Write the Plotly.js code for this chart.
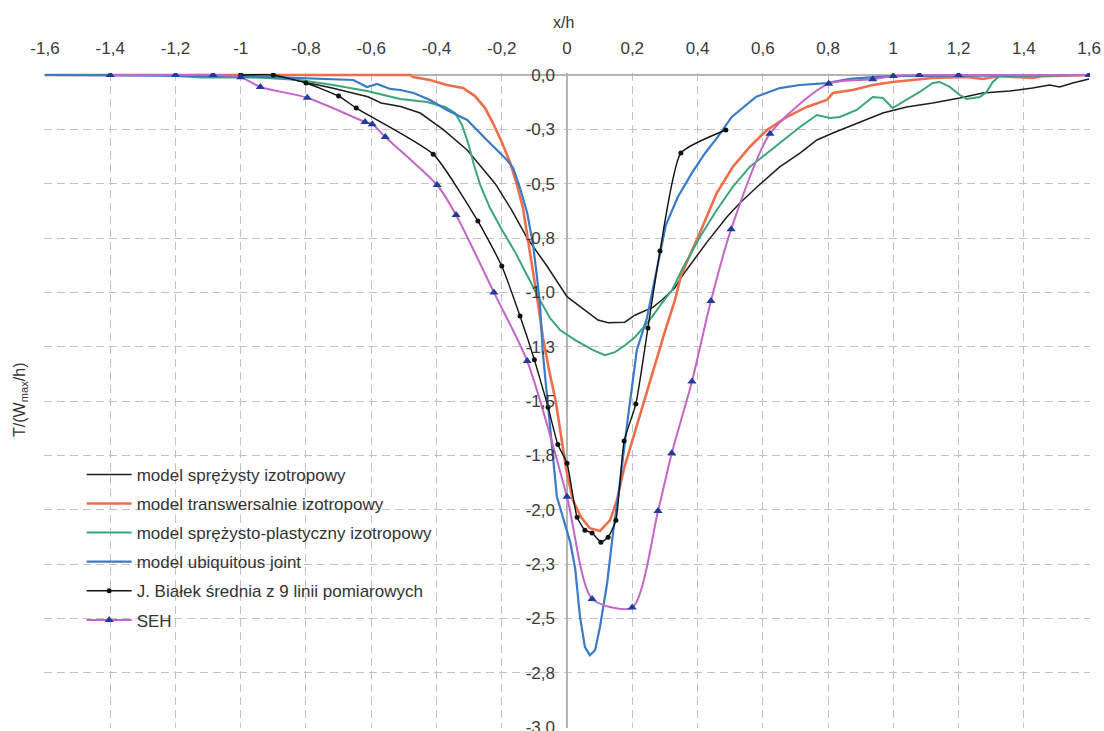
<!DOCTYPE html>
<html><head><meta charset="utf-8">
<script src="https://cdn.plot.ly/plotly-3.0.1.min.js"></script>
<style>html,body{margin:0;padding:0;background:#fff}#chart{width:1104px;height:731px}</style>
</head><body><div id="chart"></div>
<script>
// ---- tick labels ----
const xTickVals = [-1.6,-1.4,-1.2,-1.0,-0.8,-0.6,-0.4,-0.2,0,0.2,0.4,0.6,0.8,1.0,1.2,1.4,1.6];
const xTickText = ['-1,6','-1,4','-1,2','-1','-0,8','-0,6','-0,4','-0,2','0','0,2','0,4','0,6','0,8','1','1,2','1,4','1,6'];
const yTickVals = [0,-0.25,-0.5,-0.75,-1.0,-1.25,-1.5,-1.75,-2.0,-2.25,-2.5,-2.75,-3.0];
const yTickText = ['0,0','-0,3','-0,5','-0,8','-1,0','-1,3','-1,5','-1,8','-2,0','-2,3','-2,5','-2,8','-3,0'];

// ---- series names ----
const seriesNames = ['model sprężysty izotropowy','model transwersalnie izotropowy','model sprężysto-plastyczny izotropowy','model ubiquitous joint','J. Białek średnia z 9 linii pomiarowych','SEH'];

// ---- model sprężysty izotropowy ----
const sprX = [-1.6,-1.0,-0.9,-0.82,-0.72,-0.61,-0.57,-0.51,-0.45,-0.38,-0.306,-0.22,-0.17,-0.122,-0.061,0,0.046,0.095,0.126,0.177,0.208,0.24,0.264,0.291,0.33,0.355,0.429,0.49,0.53,0.582,0.652,0.714,0.766,0.815,0.897,0.968,1.041,1.121,1.204,1.274,1.357,1.427,1.479,1.51,1.55,1.6];
const sprY = [0,0,-0.003,-0.028,-0.06,-0.10,-0.129,-0.145,-0.175,-0.25,-0.345,-0.50,-0.62,-0.75,-0.88,-1.02,-1.07,-1.127,-1.14,-1.137,-1.105,-1.082,-1.068,-1.035,-0.98,-0.92,-0.769,-0.653,-0.589,-0.515,-0.423,-0.359,-0.299,-0.267,-0.216,-0.175,-0.147,-0.129,-0.106,-0.083,-0.074,-0.060,-0.046,-0.055,-0.037,-0.018];

// ---- model transwersalnie izotropowy ----
const trX = [-1.6,-0.48,-0.472,-0.42,-0.368,-0.319,-0.282,-0.251,-0.227,-0.2,-0.175,-0.153,-0.135,-0.12,-0.104,-0.089,-0.074,-0.055,-0.034,-0.018,-0.003,0.018,0.043,0.07,0.101,0.132,0.153,0.175,0.205,0.236,0.266,0.297,0.331,0.350,0.407,0.459,0.508,0.56,0.613,0.674,0.735,0.796,0.815,0.876,0.937,0.998,1.06,1.12,1.225,1.274,1.326,1.427,1.46,1.6];
const trY = [0,0,-0.009,-0.023,-0.046,-0.06,-0.097,-0.152,-0.221,-0.308,-0.40,-0.506,-0.612,-0.75,-0.897,-1.049,-1.206,-1.357,-1.505,-1.657,-1.809,-1.956,-2.034,-2.085,-2.098,-2.048,-1.956,-1.809,-1.657,-1.505,-1.348,-1.196,-1.035,-0.92,-0.727,-0.543,-0.423,-0.331,-0.253,-0.193,-0.147,-0.115,-0.083,-0.069,-0.046,-0.032,-0.023,-0.014,-0.009,-0.018,-0.005,-0.014,-0.005,0];

// ---- model sprężysto-plastyczny izotropowy ----
const plX = [-1.6,-1.25,-1.12,-1.0,-0.92,-0.82,-0.717,-0.613,-0.511,-0.429,-0.374,-0.343,-0.322,-0.303,-0.285,-0.266,-0.236,-0.199,-0.159,-0.119,-0.083,-0.052,-0.021,0.025,0.08,0.116,0.147,0.178,0.208,0.233,0.26,0.291,0.322,0.355,0.407,0.459,0.508,0.56,0.613,0.662,0.714,0.766,0.806,0.836,0.888,0.937,0.968,0.998,1.041,1.081,1.121,1.142,1.173,1.204,1.225,1.265,1.286,1.305,1.326,1.6];
const plY = [0,0,-0.012,-0.01,-0.014,-0.023,-0.046,-0.074,-0.110,-0.124,-0.147,-0.175,-0.23,-0.313,-0.414,-0.506,-0.612,-0.713,-0.815,-0.934,-1.035,-1.118,-1.173,-1.22,-1.266,-1.289,-1.275,-1.243,-1.206,-1.164,-1.114,-1.049,-0.989,-0.888,-0.746,-0.621,-0.515,-0.423,-0.359,-0.299,-0.239,-0.184,-0.198,-0.193,-0.161,-0.101,-0.106,-0.152,-0.115,-0.078,-0.037,-0.032,-0.055,-0.092,-0.11,-0.101,-0.078,-0.032,-0.005,0];

// ---- model ubiquitous joint ----
const ubX = [-1.6,-1.0,-0.9,-0.82,-0.655,-0.613,-0.582,-0.542,-0.511,-0.47,-0.42,-0.368,-0.306,-0.245,-0.184,-0.165,-0.144,-0.122,-0.104,-0.092,-0.083,-0.074,-0.058,-0.043,-0.031,0.01,0.025,0.04,0.055,0.07,0.086,0.101,0.123,0.141,0.162,0.187,0.214,0.245,0.263,0.279,0.291,0.303,0.34,0.383,0.423,0.462,0.505,0.58,0.652,0.714,0.796,0.867,0.95,1.0,1.6];
const ubY = [0,-0.005,-0.01,-0.014,-0.023,-0.055,-0.041,-0.064,-0.069,-0.083,-0.115,-0.161,-0.207,-0.30,-0.391,-0.428,-0.52,-0.635,-0.78,-0.93,-1.05,-1.28,-1.52,-1.74,-1.94,-2.15,-2.27,-2.494,-2.632,-2.669,-2.646,-2.54,-2.338,-2.108,-1.878,-1.574,-1.266,-1.118,-0.99,-0.874,-0.79,-0.69,-0.56,-0.45,-0.36,-0.285,-0.193,-0.10,-0.06,-0.046,-0.037,-0.018,-0.009,-0.005,0];

// ---- J. Białek (measurements) ----
const bialekX = [-1.0,-0.9,-0.8,-0.70,-0.646,-0.41,-0.273,-0.2,-0.144,-0.1,-0.058,-0.028,0.0,0.031,0.055,0.077,0.104,0.126,0.15,0.175,0.211,0.248,0.285,0.349,0.487];
const bialekY = [0,0,-0.037,-0.097,-0.152,-0.364,-0.672,-0.879,-1.109,-1.31,-1.528,-1.70,-1.786,-2.035,-2.094,-2.107,-2.149,-2.126,-2.048,-1.684,-1.514,-1.164,-0.81,-0.359,-0.253];

// ---- SEH ----
const sehX = [-1.4,-1.2,-1.085,-1.0,-0.94,-0.796,-0.619,-0.597,-0.557,-0.398,-0.34,-0.224,-0.122,0.0,0.077,0.2,0.279,0.321,0.383,0.441,0.503,0.622,0.802,0.937,1.0,1.08,1.2,1.6];
const sehY = [0,0,0,-0.01,-0.055,-0.105,-0.216,-0.226,-0.285,-0.506,-0.644,-1.0,-1.316,-1.94,-2.41,-2.45,-2.006,-1.74,-1.41,-1.04,-0.71,-0.27,-0.04,-0.02,-0.005,0,0,0];

const FONT = 'Liberation Sans, Arial, sans-serif';

const traces = [
  {x: sprX, y: sprY, name: seriesNames[0], mode: 'lines', line: {color: '#1e1e1e', width: 1.5}},
  {x: trX, y: trY, name: seriesNames[1], mode: 'lines', line: {color: '#ef6e4a', width: 2.6}},
  {x: plX, y: plY, name: seriesNames[2], mode: 'lines', line: {color: '#3ca678', width: 2}},
  {x: ubX, y: ubY, name: seriesNames[3], mode: 'lines', line: {color: '#3a7bc8', width: 2.2}},
  {x: bialekX, y: bialekY, name: seriesNames[4], mode: 'lines+markers', line: {color: '#111111', width: 1.4, shape: 'spline', smoothing: 0.5}, marker: {color: '#111111', size: 5, symbol: 'circle'}},
  {x: sehX, y: sehY, name: seriesNames[5], mode: 'lines+markers', line: {color: '#c466c8', width: 2, shape: 'spline', smoothing: 0.7}, marker: {color: '#1f3c9c', size: 8, symbol: 'triangle-up'}}
];
traces.forEach((t, i) => { t.legendgroup = 'g' + i; t.type = 'scatter'; });

const layout = {
  width: 1104, height: 731,
  margin: {l: 44, r: 14, t: 73, b: 3},
  paper_bgcolor: '#ffffff', plot_bgcolor: '#ffffff',
  font: {family: FONT, size: 16, color: '#3a3a3a'},
  showlegend: true,
  legend: {x: 0.036, y: 0.414, xanchor: 'left', yanchor: 'top', bgcolor: 'rgba(255,255,255,0)', borderwidth: 0,
           font: {family: FONT, size: 17, color: '#333'}, traceorder: 'grouped', tracegroupgap: 4, itemwidth: 45},
  xaxis: {range: [-1.603, 1.603], side: 'top', tickvals: xTickVals, ticktext: xTickText, ticks: '',
          ticklabelstandoff: 15, showgrid: true, gridcolor: '#c2c2c2', griddash: '8px,5px', gridwidth: 1,
          zeroline: true, zerolinecolor: '#b4b4b4', zerolinewidth: 1.5, showline: false, ticklabeloverflow: 'allow',
          tickfont: {family: FONT, size: 17, color: '#3a3a3a'}, fixedrange: true},
  yaxis: {range: [-3.004, 0.0092], anchor: 'free', position: 0.5, side: 'left', tickvals: yTickVals, ticktext: yTickText,
          ticks: '', ticklabelstandoff: 12, showgrid: true, gridcolor: '#c2c2c2', griddash: '8px,5px', gridwidth: 1,
          zeroline: true, zerolinecolor: '#b4b4b4', zerolinewidth: 1.5, showline: false, ticklabeloverflow: 'allow',
          tickfont: {family: FONT, size: 17, color: '#3a3a3a'}, fixedrange: true},
  annotations: [
    {text: 'x/h', xref: 'paper', yref: 'paper', x: 0.497, y: (728 - 22) / 655, xanchor: 'center', yanchor: 'middle',
     showarrow: false, font: {family: FONT, size: 16, color: '#333'}},
    {text: 'T/(W<sub>max</sub>/h)', xref: 'paper', yref: 'paper', x: (20 - 44) / 1046, y: (728 - 400) / 655,
     xanchor: 'center', yanchor: 'middle', textangle: -90, showarrow: false, font: {family: FONT, size: 16, color: '#333'}}
  ]
};

Plotly.newPlot('chart', traces, layout, {displayModeBar: false, staticPlot: true});
</script>
</body></html>
